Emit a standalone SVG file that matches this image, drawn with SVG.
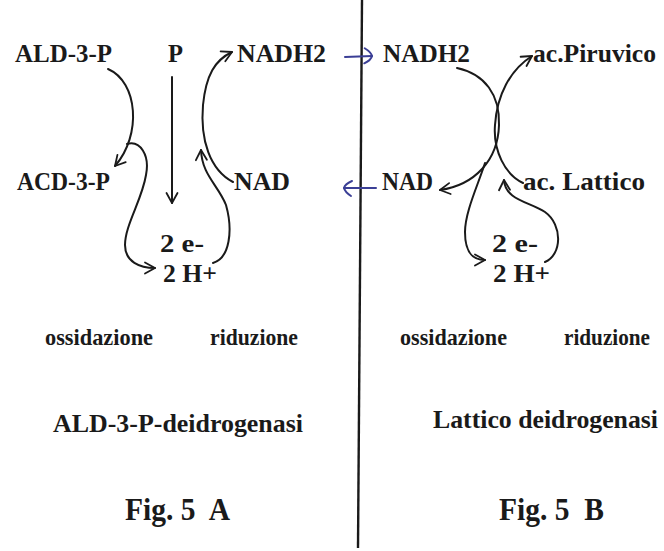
<svg xmlns="http://www.w3.org/2000/svg" width="664" height="551" viewBox="0 0 664 551">
<style>
text{font-family:"Liberation Serif","Times New Roman",serif;font-weight:bold;fill:#1a1a1a}
.t{font-size:25px}
.s{font-size:23px}
.m{font-size:26px}
.f{font-size:31px}
.c{fill:none;stroke:#1a1a1a;stroke-width:2;stroke-linecap:round}
.b{fill:none;stroke:#3b3f96;stroke-width:2;stroke-linecap:round}
</style>
<defs>
<marker id="ah" viewBox="-12 -8 14 16" refX="0" refY="0" markerWidth="14" markerHeight="16" markerUnits="userSpaceOnUse" orient="auto">
<path d="M-10,-5.5 L0,0 L-10,5.5" fill="none" stroke="#1a1a1a" stroke-width="1.8" stroke-linecap="round" stroke-linejoin="round"/>
</marker>
<marker id="bh" viewBox="-12 -10 14 20" refX="0" refY="0" markerWidth="14" markerHeight="20" markerUnits="userSpaceOnUse" orient="auto">
<path d="M-7,-8 Q-1,-4 0,0 Q-1,4 -8,7" fill="none" stroke="#3b3f96" stroke-width="2" stroke-linecap="round"/>
</marker>
</defs>
<rect width="664" height="551" fill="#ffffff"/>
<g id="divider">
<path d="M362,0 L358,548" fill="none" stroke="#1a1a1a" stroke-width="2.4"/>
</g>
<g id="connectors">
<path class="c" d="M108,69 C138,82 142,135 115,166" marker-end="url(#ah)"/>
<path class="c" d="M127,144 C140,140 150,155 146,175 C142,200 125,225 125,245 C125,262 140,268 155,268" marker-end="url(#ah)"/>
<path class="c" d="M213,263 C230,258 233,230 226,205 C218,185 202,175 201,150" marker-end="url(#ah)"/>
<path class="c" d="M233,182 C210,170 200,140 203,105 C206,75 215,60 232,52" marker-end="url(#ah)"/>
<path class="c" d="M172,77 L172,203" marker-end="url(#ah)"/>
<path class="c" d="M457,68 C485,74 500,95 499,125 C498,160 475,185 440,190" marker-end="url(#ah)"/>
<path class="c" d="M523,183 C505,175 493,150 495,125 C497,95 510,70 532,56" marker-end="url(#ah)"/>
<path class="c" d="M485,163 C478,185 465,212 465,232 C465,252 472,260 485,260" marker-end="url(#ah)"/>
<path class="c" d="M545,262 C562,255 563,225 545,212 C530,202 505,200 504,180" marker-end="url(#ah)"/>
<path class="b" d="M345,57 L372,56" marker-end="url(#bh)"/>
<path class="b" d="M376,188 L344,188" marker-end="url(#bh)"/>
</g>
<g id="n-ald"><text class="t" x="15" y="62" textLength="97" lengthAdjust="spacingAndGlyphs">ALD-3-P</text></g>
<g id="n-p"><text class="t" x="168" y="62" textLength="15" lengthAdjust="spacingAndGlyphs">P</text></g>
<g id="n-nadh2a"><text class="t" x="237" y="62" textLength="89" lengthAdjust="spacingAndGlyphs">NADH2</text></g>
<g id="n-acd"><text class="t" x="17" y="190" textLength="93" lengthAdjust="spacingAndGlyphs">ACD-3-P</text></g>
<g id="n-nada"><text class="t" x="234" y="190" textLength="56" lengthAdjust="spacingAndGlyphs">NAD</text></g>
<g id="n-2ea"><text class="t" x="160" y="252" textLength="44" lengthAdjust="spacingAndGlyphs">2 e-</text></g>
<g id="n-2ha"><text class="t" x="163" y="282" textLength="54" lengthAdjust="spacingAndGlyphs">2 H+</text></g>
<g id="n-nadh2b"><text class="t" x="383" y="62" textLength="87" lengthAdjust="spacingAndGlyphs">NADH2</text></g>
<g id="n-piruvico"><text class="t" x="533" y="62" textLength="123" lengthAdjust="spacingAndGlyphs">ac.Piruvico</text></g>
<g id="n-nadb"><text class="t" x="382" y="190" textLength="51" lengthAdjust="spacingAndGlyphs">NAD</text></g>
<g id="n-lattico"><text class="t" x="523" y="190" textLength="122" lengthAdjust="spacingAndGlyphs">ac. Lattico</text></g>
<g id="n-2eb"><text class="t" x="492" y="252" textLength="46" lengthAdjust="spacingAndGlyphs">2 e-</text></g>
<g id="n-2hb"><text class="t" x="493" y="282" textLength="57" lengthAdjust="spacingAndGlyphs">2 H+</text></g>
<g id="labels">
<text class="s" x="45" y="345" textLength="108" lengthAdjust="spacingAndGlyphs">ossidazione</text>
<text class="s" x="210" y="345" textLength="88" lengthAdjust="spacingAndGlyphs">riduzione</text>
<text class="s" x="400" y="345" textLength="107" lengthAdjust="spacingAndGlyphs">ossidazione</text>
<text class="s" x="564" y="345" textLength="86" lengthAdjust="spacingAndGlyphs">riduzione</text>
<text class="m" x="53" y="432" textLength="250" lengthAdjust="spacingAndGlyphs">ALD-3-P-deidrogenasi</text>
<text class="m" x="433" y="428" textLength="225" lengthAdjust="spacingAndGlyphs">Lattico deidrogenasi</text>
<text class="f" x="125" y="520" textLength="105" lengthAdjust="spacingAndGlyphs">Fig. 5&#160; A</text>
<text class="f" x="499" y="520" textLength="105" lengthAdjust="spacingAndGlyphs">Fig. 5&#160; B</text>
</g>
</svg>
